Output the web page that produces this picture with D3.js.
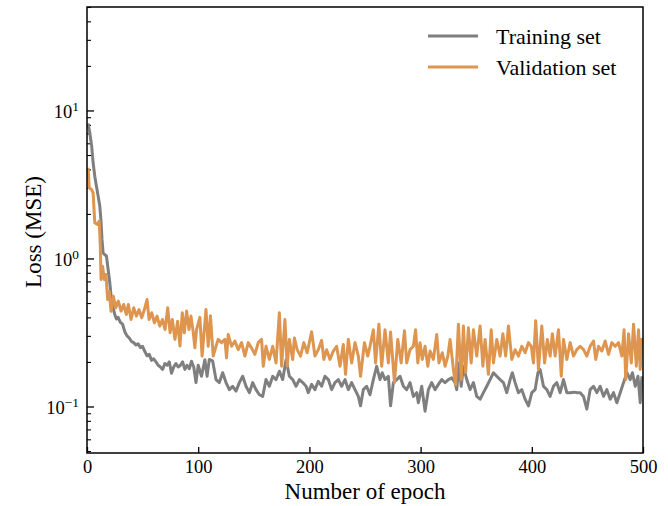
<!DOCTYPE html>
<html>
<head>
<meta charset="utf-8">
<script src="https://cdn.jsdelivr.net/npm/d3@7"></script>
<style>
  html, body { margin: 0; padding: 0; background: #ffffff; }
  svg { display: block; font-family: "Liberation Serif", "Times New Roman", serif; }
</style>
</head>
<body>
<svg id="chart" width="668" height="506"></svg>
<script>
// Loss per epoch, as [epoch, MSE] pairs
const trainLoss = [
  [1,8.17],[2.5,7.07],[4.2,5.74],[5.5,4.43],[7,3.6],[8.5,3.08],[10,2.64],[11.5,2.26],[12.5,1.83],[13.5,1.34],
  [14.5,1.09],[16,1.06],[17.5,1.04],[19,0.843],[20.5,0.685],[22,0.528],[23.5,0.464],[25,0.418],[26.5,0.39],[28,0.40],
  [30,0.37],[32,0.36],[34,0.32],[36,0.30],[38,0.29],[40,0.275],[42,0.27],[44,0.26],[46,0.265],[48,0.25],
  [50,0.255],[52,0.235],[54,0.22],[56,0.225],[58,0.205],[60,0.21],[62,0.2],[64,0.19],[66,0.185],[68,0.178],
  [70,0.195],[72,0.19],[74,0.2],[76,0.168],[78,0.185],[80,0.195],[82,0.185],[84,0.19],[86,0.2],[88,0.178],
  [90,0.19],[92,0.18],[94,0.202],[96,0.185],[98,0.145],[100,0.19],[103,0.16],[106,0.207],[108,0.16],[110,0.208],
  [113,0.203],[116,0.152],[119,0.145],[122,0.169],[125,0.145],[128,0.13],[131,0.137],[134,0.127],[137,0.145],[140,0.16],
  [143,0.137],[146,0.124],[149,0.145],[152,0.13],[155,0.12],[158,0.117],[161,0.152],[164,0.137],[167,0.16],[170,0.152],
  [173,0.173],[176,0.152],[179,0.207],[182,0.16],[185,0.152],[188,0.137],[191,0.152],[194,0.145],[197,0.137],[199,0.124],
  [202,0.141],[205,0.13],[208,0.148],[211,0.137],[214,0.16],[217,0.152],[220,0.13],[223,0.145],[226,0.152],[229,0.137],
  [232,0.152],[235,0.13],[238,0.145],[241,0.13],[244,0.117],[246,0.101],[248.5,0.13],[251.5,0.137],[254.5,0.12],[257.5,0.152],
  [260.5,0.187],[263.5,0.152],[265.5,0.169],[268,0.152],[271,0.16],[273,0.101],[275.5,0.145],[278.5,0.152],[281.5,0.16],[284.5,0.137],
  [287.5,0.13],[290.5,0.145],[293.5,0.117],[296.5,0.124],[298,0.106],[301,0.137],[304,0.093],[307,0.13],[310,0.145],[313,0.13],
  [316,0.141],[319,0.152],[322,0.145],[325,0.152],[328,0.156],[331,0.145],[332.5,0.13],[334.5,0.197],[336.5,0.137],[338.5,0.187],
  [341.5,0.152],[344.5,0.13],[347.5,0.145],[350.5,0.117],[353.5,0.112],[356.5,0.124],[359.5,0.137],[362.5,0.152],[365.5,0.169],[368.5,0.16],
  [371.5,0.152],[374.5,0.145],[377.5,0.124],[380.5,0.152],[382.5,0.169],[385,0.145],[388,0.124],[391,0.13],[394,0.112],[397,0.101],
  [400,0.124],[403,0.13],[405.5,0.169],[407.5,0.178],[410.5,0.137],[413.5,0.13],[416.5,0.117],[419.5,0.137],[422.5,0.145],[425.5,0.124],
  [428.5,0.152],[431.5,0.124],[434.5,0.124],[438,0.125],[441,0.124],[443.5,0.124],[446.5,0.117],[449.5,0.096],[452.5,0.13],[455.5,0.137],
  [458.5,0.124],[461.5,0.137],[464.5,0.117],[467.5,0.13],[470.5,0.112],[473.5,0.124],[476.5,0.106],[479.5,0.124],[482.5,0.145],[485.5,0.169],
  [488.5,0.152],[490.5,0.169],[493,0.137],[495.5,0.16],[497.5,0.106],[499,0.16]
];

const valLoss = [
  [1,4.1],[2,3.0],[4,2.93],[5.5,2.78],[7,1.74],[9.5,1.70],[11,1.79],[12,1.2],[12.6,0.72],[14,0.887],
  [15.6,0.72],[17,0.78],[18.6,0.528],[20,0.60],[21.6,0.44],[23.7,0.556],[25.8,0.464],[28.2,0.515],[30.6,0.441],[33,0.489],
  [35.4,0.418],[37.2,0.489],[39.6,0.387],[42,0.464],[44.4,0.408],[46.8,0.452],[49.2,0.397],[51.6,0.452],[54,0.528],[55.8,0.387],
  [58.2,0.43],[60.6,0.367],[63,0.408],[65.4,0.349],[67.8,0.387],[70.2,0.331],[72.6,0.464],[74.7,0.315],[76.7,0.387],[79.1,0.284],
  [81.5,0.377],[83.6,0.256],[85.7,0.43],[87.5,0.315],[89.6,0.441],[91.7,0.331],[93.5,0.408],[95.6,0.315],[97,0.249],[98.5,0.33],
  [101.5,0.40],[103.5,0.219],[107,0.452],[109,0.255],[111,0.41],[113.5,0.219],[116,0.255],[118,0.284],[121,0.27],[124,0.284],
  [125.5,0.213],[127,0.306],[130,0.255],[133,0.277],[136,0.242],[139,0.27],[142,0.219],[145,0.27],[148,0.248],[151,0.225],
  [154,0.27],[157,0.284],[158.5,0.187],[161,0.255],[164,0.208],[167,0.255],[170,0.197],[173,0.43],[175,0.187],[178,0.387],
  [180,0.187],[182,0.284],[185,0.208],[186.5,0.29],[189,0.242],[192,0.219],[195,0.27],[198,0.231],[202,0.32],[205,0.219],
  [208,0.242],[211,0.28],[213,0.208],[215.5,0.242],[218.5,0.208],[221.5,0.237],[224.5,0.255],[227.5,0.187],[230.5,0.262],[232.5,0.165],
  [235,0.284],[238,0.197],[241,0.27],[244,0.219],[246,0.16],[249.5,0.27],[252.5,0.219],[254.5,0.255],[257.5,0.33],[259.5,0.197],
  [262.5,0.36],[265,0.187],[268,0.33],[271,0.197],[273,0.318],[276.5,0.145],[279.5,0.284],[282.5,0.197],[285.5,0.325],[287.5,0.197],
  [290.5,0.242],[293.5,0.255],[295.5,0.33],[297.5,0.197],[299.5,0.27],[301.5,0.208],[304,0.255],[306.5,0.187],[308.5,0.237],[311.5,0.208],
  [314.5,0.306],[316.5,0.197],[319.5,0.231],[322,0.187],[324.5,0.219],[326.5,0.284],[329.5,0.178],[331.5,0.14],[334,0.36],[336.5,0.152],
  [338.5,0.35],[340.5,0.169],[343,0.34],[345.5,0.197],[347.5,0.33],[350.5,0.219],[353.5,0.35],[356,0.187],[358,0.284],[361,0.165],
  [363.5,0.33],[365.5,0.197],[368.5,0.284],[371.5,0.219],[374,0.31],[376.5,0.219],[379,0.35],[382,0.208],[385,0.242],[388,0.219],
  [391,0.255],[394,0.231],[397,0.27],[399.5,0.255],[401.5,0.197],[403.5,0.38],[406,0.178],[409,0.35],[411.5,0.197],[414,0.284],
  [416.5,0.219],[418.5,0.31],[421,0.219],[424,0.33],[426.5,0.16],[428.5,0.284],[431.5,0.208],[434.5,0.27],[437.5,0.219],[440.5,0.242],
  [443.5,0.255],[446.5,0.242],[449.5,0.219],[452.5,0.255],[455.5,0.277],[457.5,0.208],[460,0.255],[463,0.237],[466,0.277],[469,0.225],
  [472,0.27],[475,0.255],[478,0.27],[481,0.219],[483,0.33],[484.5,0.152],[487,0.31],[489.5,0.197],[491.5,0.36],[494,0.187],
  [496,0.33],[497.5,0.178],[499,0.29]
];

const seriesNames = ["Training set", "Validation set"];
const seriesColors = ["#7f7f7f", "#dd954f"];
const xTicks = [0, 100, 200, 300, 400, 500];
const yMajorTicks = [0.1, 1, 10];
const yExponents = ["\u22121", "0", "1"];
const xLabel = "Number of epoch";
const yLabel = "Loss (MSE)";

const plot = { left: 87, right: 643, top: 7, bottom: 453 };
const serif = "Liberation Serif, Times New Roman, serif";

const svg = d3.select("#chart");

const x = d3.scaleLinear().domain([0, 500]).range([plot.left, plot.right]);
const y = d3.scaleLog().domain([0.0485, 50]).range([plot.bottom, plot.top]);

// Bottom axis: major ticks pointing inward
const xAxis = svg.append("g")
  .attr("transform", `translate(0,${plot.bottom})`)
  .call(d3.axisBottom(x).tickValues(xTicks).tickSizeInner(-6).tickSizeOuter(0).tickPadding(7).tickFormat(d3.format("d")));
xAxis.select(".domain").remove();
xAxis.selectAll(".tick line").attr("stroke", "#000").attr("stroke-width", 1.3);
xAxis.selectAll(".tick text").attr("font-size", 18.5).attr("fill", "#000").attr("font-family", serif);

// Left axis: minor ticks on the log scale
const yMinor = y.ticks().filter(v => !yMajorTicks.some(m => Math.abs(m - v) < 1e-9));
const yAxisMinor = svg.append("g")
  .attr("transform", `translate(${plot.left},0)`)
  .call(d3.axisLeft(y).tickValues(yMinor).tickSizeInner(-4).tickSizeOuter(0).tickFormat(""));
yAxisMinor.select(".domain").remove();
yAxisMinor.selectAll(".tick line").attr("stroke", "#000").attr("stroke-width", 1.1);

// Left axis: decade ticks with power-of-ten labels
const yAxisMajor = svg.append("g")
  .attr("transform", `translate(${plot.left},0)`)
  .call(d3.axisLeft(y).tickValues(yMajorTicks).tickSizeInner(-7).tickSizeOuter(0).tickPadding(8).tickFormat(""));
yAxisMajor.select(".domain").remove();
yAxisMajor.selectAll(".tick line").attr("stroke", "#000").attr("stroke-width", 1.3);
yAxisMajor.selectAll(".tick text").each(function(d) {
  const t = d3.select(this)
    .attr("font-size", 18.5).attr("fill", "#000")
    .attr("font-family", serif)
    .attr("dy", "0.38em");
  t.text(null);
  t.append("tspan").text("10");
  t.append("tspan").attr("dy", "-0.55em").attr("font-size", "0.72em").text(yExponents[yMajorTicks.indexOf(d)]);
});

// Data lines
const line = d3.line().x(d => x(d[0])).y(d => y(d[1]));
[trainLoss, valLoss].forEach((data, i) => {
  svg.append("path")
    .datum(data)
    .attr("fill", "none")
    .attr("stroke", seriesColors[i])
    .attr("stroke-width", 3)
    .attr("stroke-linejoin", "round")
    .attr("stroke-linecap", "butt")
    .attr("d", line);
});

// Frame
svg.append("rect")
  .attr("x", plot.left).attr("y", plot.top)
  .attr("width", plot.right - plot.left).attr("height", plot.bottom - plot.top)
  .attr("fill", "none").attr("stroke", "#000").attr("stroke-width", 1.5);

// Axis titles
svg.append("text")
  .attr("x", (plot.left + plot.right) / 2).attr("y", 499)
  .attr("text-anchor", "middle").attr("font-size", 23).attr("fill", "#000")
  .text(xLabel);
svg.append("text")
  .attr("transform", `translate(41,${(plot.top + plot.bottom) / 2 + 2}) rotate(-90)`)
  .attr("text-anchor", "middle").attr("font-size", 23).attr("fill", "#000")
  .text(yLabel);

// Legend
const legend = svg.append("g");
seriesNames.forEach((name, i) => {
  const ly = 36 + i * 31;
  legend.append("line")
    .attr("x1", 428).attr("x2", 478).attr("y1", ly).attr("y2", ly)
    .attr("stroke", seriesColors[i]).attr("stroke-width", 3);
  legend.append("text")
    .attr("x", 496).attr("y", ly + 7.5)
    .attr("font-size", 22).attr("fill", "#000")
    .text(name);
});
</script>
</body>
</html>
